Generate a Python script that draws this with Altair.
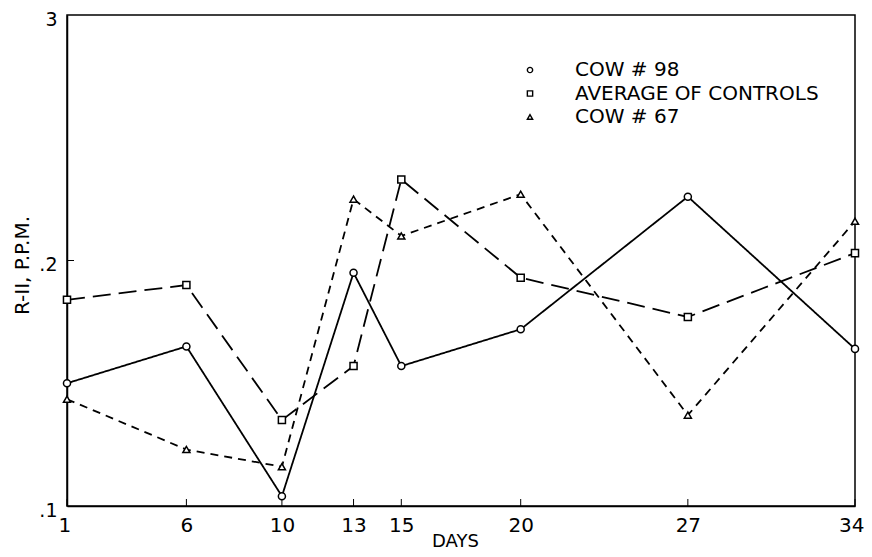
import altair as alt
import pandas as pd

days = [1, 6, 10, 13, 15, 20, 27, 34]
series_names = ["COW # 98", "AVERAGE OF CONTROLS", "COW # 67"]
cow98 = [0.150, 0.165, 0.104, 0.195, 0.157, 0.172, 0.226, 0.164]
controls = [0.184, 0.190, 0.135, 0.157, 0.233, 0.193, 0.177, 0.203]
cow67 = [0.1435, 0.123, 0.116, 0.225, 0.210, 0.227, 0.137, 0.216]

x_ticks = [1, 6, 10, 13, 15, 20, 27, 34]
y_ticks = [0.1, 0.2, 0.3]
y_tick_labels = [".1", ".2", "3"]

rows = []
for name, vals in zip(series_names, [cow98, controls, cow67]):
    for d, v in zip(days, vals):
        rows.append({"day": d, "value": v, "series": name, "style": name})
df = pd.DataFrame(rows)
legend_df = pd.DataFrame({"series": series_names})

FONT = "DejaVu Sans"
W, H = 788, 491

label_expr = ""
for v, lab in zip(y_ticks[:-1], y_tick_labels[:-1]):
    label_expr += f"datum.value < {v + 0.05} ? '{lab}' : "
label_expr += f"'{y_tick_labels[-1]}'"

x_scale = alt.Scale(domain=[1, 34], nice=False, zero=False)
y_scale = alt.Scale(domain=[0.1, 0.3], nice=False, zero=False)

x_enc = alt.X(
    "day:Q", scale=x_scale,
    axis=alt.Axis(values=x_ticks, title="DAYS", ticks=False, grid=False,
                  labelPadding=9, labelFontSize=20, labelFont=FONT,
                  labelFlush=True, labelFlushOffset=9,
                  titleFontSize=18, titleFont=FONT, titleFontWeight="normal",
                  titleX=W / 2 - 6, titleY=35, titleBaseline="middle"),
)
y_enc = alt.Y(
    "value:Q", scale=y_scale,
    axis=alt.Axis(values=y_ticks, labelExpr=label_expr, title="R-II, P.P.M.",
                  ticks=False, grid=False, labelPadding=10, labelFontSize=19,
                  labelFont=FONT, labelOffset=4, titleFontSize=20, titleFont=FONT,
                  titleFontWeight="normal", titleX=-45, titleY=250,
                  titleAlign="center", titleBaseline="middle", labelFlush=False),
)
y_plain = alt.Y("value:Q", scale=y_scale, axis=None)

dash_scale = alt.Scale(domain=series_names, range=[[1, 0], [18, 8], [8, 6]])
shape_scale = alt.Scale(domain=series_names, range=["circle", "square", "triangle-up"])

lines = alt.Chart(df).mark_line(color="black", strokeWidth=1.8).encode(
    x=x_enc, y=y_enc,
    strokeDash=alt.StrokeDash("style:N", scale=dash_scale, legend=None),
    detail="series:N",
)

points = alt.Chart(df).mark_point(filled=False, fill="white", fillOpacity=1,
                                  stroke="black", strokeWidth=1.5, size=50,
                                  opacity=1).encode(
    x="day:Q", y=y_plain,
    shape=alt.Shape("series:N", scale=shape_scale, legend=None),
)

xtick_df = pd.DataFrame({"day": x_ticks})
xticks = alt.Chart(xtick_df).mark_rule(color="black", strokeWidth=1).encode(
    x="day:Q", y=alt.value(H), y2=alt.value(H - 7)
)
ytick_df = pd.DataFrame({"value": y_ticks[1:2]})
yticks = alt.Chart(ytick_df).mark_rule(color="black", strokeWidth=1).encode(
    y=y_plain, x=alt.value(0), x2=alt.value(7)
)

# legend (symbols and labels) in the upper right of the plot
leg_y = alt.Y("series:N", scale=alt.Scale(type="point", domain=series_names,
                                            range=[55, 102], padding=0), axis=None)
leg_sym = alt.Chart(legend_df).mark_point(filled=False, fill="white", fillOpacity=1,
                                          stroke="black", strokeWidth=1.4, size=28,
                                          opacity=1).encode(
    x=alt.value(463), y=leg_y,
    shape=alt.Shape("series:N", scale=shape_scale, legend=None),
)
leg_txt = alt.Chart(legend_df).mark_text(align="left", baseline="middle", font=FONT,
                                         fontSize=20, color="black").encode(
    x=alt.value(508), y=leg_y, text="series:N"
)

chart = alt.layer(lines, xticks, yticks, points, leg_sym, leg_txt).resolve_scale(
    y="independent"
).properties(
    width=W, height=H,
    autosize=alt.AutoSizeParams(type="none"),
    padding={"left": 59, "top": 7, "right": 9, "bottom": 45},
).configure_view(stroke="black", strokeWidth=1.5).configure_axis(
    domainColor="black", domainWidth=1.5, labelColor="black", titleColor="black"
)

chart.save("out.html", embed_options={"renderer": "svg", "actions": False})
